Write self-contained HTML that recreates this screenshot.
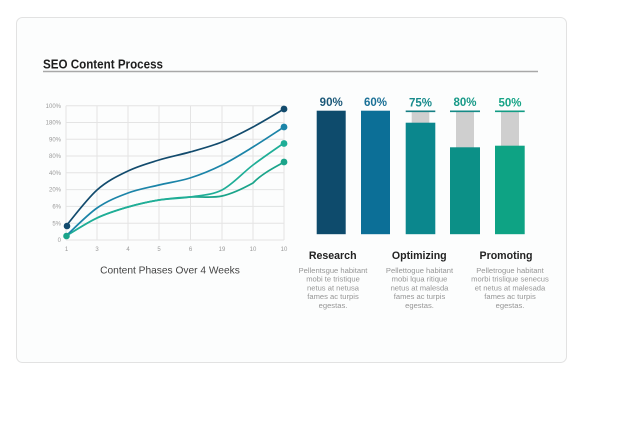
<!DOCTYPE html>
<html>
<head>
<meta charset="utf-8">
<style>
html,body{margin:0;padding:0;background:#fff;}
body{width:637px;height:439px;overflow:hidden;}
svg{display:block;}
</style>
</head>
<body>
<svg width="637" height="439" viewBox="0 0 637 439" xmlns="http://www.w3.org/2000/svg">
  <rect x="0" y="0" width="637" height="439" fill="#ffffff"/>
  <!-- card -->
  <rect x="16.5" y="17.5" width="550" height="345" rx="6" ry="6" fill="#fcfdfd" stroke="#e2e2e2" stroke-width="1"/>

  <!-- title -->
  <text x="43" y="68.5" font-family="Liberation Sans, sans-serif" font-size="12.5" font-weight="bold" fill="#1e1e1e" textLength="120" lengthAdjust="spacingAndGlyphs">SEO Content Process</text>
  <line x1="43" y1="71.5" x2="538" y2="71.5" stroke="#a8a8a8" stroke-width="1.6"/>

  <!-- grid -->
  <g stroke="#e4e4e4" stroke-width="1">
    <line x1="66" y1="105.7" x2="284" y2="105.7"/>
    <line x1="66" y1="122.5" x2="284" y2="122.5"/>
    <line x1="66" y1="139.3" x2="284" y2="139.3"/>
    <line x1="66" y1="156" x2="284" y2="156"/>
    <line x1="66" y1="172.8" x2="284" y2="172.8"/>
    <line x1="66" y1="189.6" x2="284" y2="189.6"/>
    <line x1="66" y1="206.4" x2="284" y2="206.4"/>
    <line x1="66" y1="223.2" x2="284" y2="223.2"/>
    <line x1="66" y1="240" x2="284" y2="240"/>
    <line x1="66" y1="105.7" x2="66" y2="240"/>
    <line x1="97" y1="105.7" x2="97" y2="240"/>
    <line x1="128" y1="105.7" x2="128" y2="240"/>
    <line x1="159" y1="105.7" x2="159" y2="240"/>
    <line x1="190.5" y1="105.7" x2="190.5" y2="240"/>
    <line x1="222" y1="105.7" x2="222" y2="240"/>
    <line x1="253" y1="105.7" x2="253" y2="240"/>
    <line x1="284" y1="105.7" x2="284" y2="240"/>
  </g>

  <!-- y labels -->
  <g font-family="Liberation Sans, sans-serif" font-size="6" fill="#9a9a9a" text-anchor="end">
    <text x="61" y="107.8">100%</text>
    <text x="61" y="124.6">180%</text>
    <text x="61" y="141.4">90%</text>
    <text x="61" y="158.1">80%</text>
    <text x="61" y="174.9">40%</text>
    <text x="61" y="191.7">20%</text>
    <text x="61" y="208.5">6%</text>
    <text x="61" y="225.3">5%</text>
    <text x="61" y="242.1">0</text>
  </g>
  <!-- x labels -->
  <g font-family="Liberation Sans, sans-serif" font-size="6" fill="#9a9a9a" text-anchor="middle">
    <text x="66.5" y="251">1</text>
    <text x="97" y="251">3</text>
    <text x="128" y="251">4</text>
    <text x="159" y="251">5</text>
    <text x="190.5" y="251">6</text>
    <text x="222" y="251">19</text>
    <text x="253" y="251">10</text>
    <text x="284" y="251">10</text>
  </g>
  <text x="170" y="273.5" font-family="Liberation Sans, sans-serif" font-size="10.2" fill="#444" text-anchor="middle">Content Phases Over 4 Weeks</text>

  <!-- series -->
  <g fill="none" stroke-width="1.7" stroke-linecap="round">
    <path stroke="#1aa48a" d="M66,236 C71.2,233 86.7,222.8 97,218 C107.3,213.2 117.7,210 128,207 C138.3,204 148.7,201.7 159,200 C169.3,198.3 179.5,197.7 190,197 C200.5,196.3 211.5,198.3 222,196 C232.5,193.7 242.7,188.7 253,183 C263.3,172.3 278.8,165.5 284,162"/>
    <path stroke="#1fae97" d="M66,236 C71.2,233 86.7,222.8 97,218 C107.3,213.2 117.7,210 128,207 C138.3,204 148.7,201.7 159,200 C169.3,198.3 179.5,198.7 190,197 C200.5,195.3 211.5,195.3 222,190 C232.5,184.7 242.7,172.8 253,165 C263.3,157.2 278.8,146.7 284,143"/>
    <path stroke="#1b84a8" d="M66,236 C71.2,231.3 86.7,215.2 97,208 C107.3,200.8 117.7,196.8 128,193 C138.3,189.2 148.7,187.5 159,185 C169.3,182.5 179.5,181.3 190,178 C200.5,174.7 211.5,170.2 222,165 C232.5,159.8 242.7,153.3 253,147 C263.3,140.7 278.8,130.3 284,127"/>
    <path stroke="#124b6d" d="M66,226 C71.2,220 86.7,199.2 97,190 C107.3,180.8 117.7,176 128,171 C138.3,166 148.7,163.2 159,160 C169.3,156.8 179.5,155 190,152 C200.5,149 211.5,146.2 222,142 C232.5,137.8 242.7,132.5 253,127 C263.3,121.5 278.8,112 284,109"/>
  </g>
  <!-- markers -->
  <circle cx="66.5" cy="236" r="3.3" fill="#1aa48a"/>
  <circle cx="67" cy="226" r="3.3" fill="#124b6d"/>
  <circle cx="284" cy="109" r="3.4" fill="#124b6d"/>
  <circle cx="284" cy="127" r="3.4" fill="#1b84a8"/>
  <circle cx="284" cy="143.5" r="3.4" fill="#1fae97"/>
  <circle cx="284" cy="162" r="3.4" fill="#1aa48a"/>

  <!-- bars -->
  <rect x="316.7" y="110.7" width="29" height="123.5" fill="#0e4b6c"/>
  <rect x="361" y="110.7" width="29" height="123.5" fill="#0c6f97"/>

  <rect x="411.7" y="112" width="17.6" height="11" fill="#cfcfcf"/>
  <rect x="405.7" y="122.7" width="29.6" height="111.5" fill="#0b878d"/>
  <line x1="405.7" y1="111.3" x2="435.3" y2="111.3" stroke="#167f84" stroke-width="1.6"/>

  <rect x="456" y="112" width="18" height="35.5" fill="#cfcfcf"/>
  <rect x="450" y="147.3" width="30" height="86.9" fill="#0c9087"/>
  <line x1="450" y1="111.3" x2="480" y2="111.3" stroke="#158a86" stroke-width="1.6"/>

  <rect x="501" y="112" width="18" height="34" fill="#cfcfcf"/>
  <rect x="495" y="145.7" width="29.7" height="88.5" fill="#0ea384"/>
  <line x1="495" y1="111.3" x2="524.7" y2="111.3" stroke="#129c84" stroke-width="1.6"/>

  <!-- bar labels -->
  <g font-family="Liberation Sans, sans-serif" font-size="11.5" font-weight="bold" text-anchor="middle">
    <text x="331.2" y="105.8" fill="#1b5878">90%</text>
    <text x="375.5" y="105.8" fill="#1a7096">60%</text>
    <text x="420.5" y="106.3" fill="#178a8b">75%</text>
    <text x="465" y="105.8" fill="#169987">80%</text>
    <text x="510" y="106.3" fill="#16a486">50%</text>
  </g>

  <!-- headings -->
  <g font-family="Liberation Sans, sans-serif" font-size="10.6" font-weight="bold" fill="#222" text-anchor="middle">
    <text x="332.7" y="258.8">Research</text>
    <text x="419.3" y="258.8">Optimizing</text>
    <text x="506" y="258.8">Promoting</text>
  </g>

  <!-- descriptions -->
  <g font-family="Liberation Sans, sans-serif" font-size="7.6" fill="#969696" text-anchor="middle">
    <text x="333" y="273">Pellentsgue habitant</text>
    <text x="333" y="281.7">mobi te tristique</text>
    <text x="333" y="290.4">netus at netusa</text>
    <text x="333" y="299.1">fames ac turpis</text>
    <text x="333" y="307.8">egestas.</text>

    <text x="419.5" y="273">Pellettogue habitant</text>
    <text x="419.5" y="281.7">mobi lqua ritique</text>
    <text x="419.5" y="290.4">netus at malesda</text>
    <text x="419.5" y="299.1">fames ac turpis</text>
    <text x="419.5" y="307.8">egestas.</text>

    <text x="510" y="273">Pelletrogue habitant</text>
    <text x="510" y="281.7">morbi trislique senecus</text>
    <text x="510" y="290.4">et netus at malesada</text>
    <text x="510" y="299.1">fames ac turpis</text>
    <text x="510" y="307.8">egestas.</text>
  </g>
</svg>
</body>
</html>
